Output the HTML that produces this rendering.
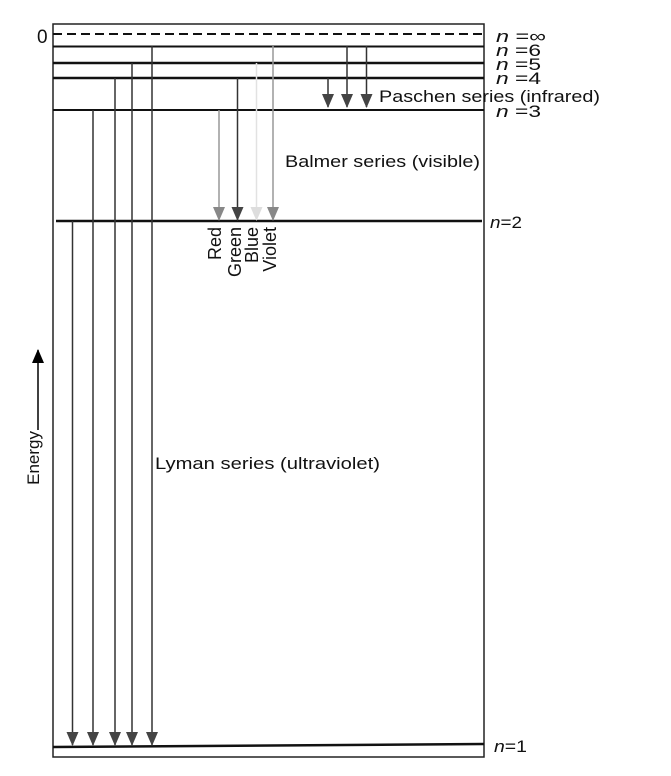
<!DOCTYPE html>
<html><head><style>body{margin:0;background:#fff}svg{display:block}</style></head><body>
<svg width="671" height="776" viewBox="0 0 671 776" xmlns="http://www.w3.org/2000/svg" font-family="Liberation Sans, sans-serif">
<defs>
<marker id="a" markerWidth="14" markerHeight="12" refX="13" refY="6" orient="auto" markerUnits="userSpaceOnUse"><path d="M0,0 L14,6 L0,12 Z" fill="#444"/></marker>
<marker id="g" markerWidth="14" markerHeight="12" refX="13" refY="6" orient="auto" markerUnits="userSpaceOnUse"><path d="M0,0 L14,6 L0,12 Z" fill="#888"/></marker>
<marker id="l" markerWidth="14" markerHeight="12" refX="13" refY="6" orient="auto" markerUnits="userSpaceOnUse"><path d="M0,0 L14,6 L0,12 Z" fill="#ddd"/></marker>
<marker id="e" markerWidth="14" markerHeight="12" refX="13" refY="6" orient="auto" markerUnits="userSpaceOnUse"><path d="M0,0 L14,6 L0,12 Z" fill="#000"/></marker>
</defs>
<rect x="53" y="24" width="431" height="733" fill="none" stroke="#222" stroke-width="1.5"/>
<line x1="53" y1="34" x2="484" y2="34" stroke="#111" stroke-width="2" stroke-dasharray="9,5"/>
<line x1="53" y1="46.5" x2="484" y2="46.5" stroke="#111" stroke-width="2"/>
<line x1="53" y1="63" x2="484" y2="63" stroke="#111" stroke-width="2.5"/>
<line x1="53" y1="78" x2="484" y2="78" stroke="#111" stroke-width="2.5"/>
<line x1="53" y1="110" x2="484" y2="110" stroke="#111" stroke-width="2"/>
<line x1="56" y1="221" x2="482" y2="221" stroke="#111" stroke-width="2.5"/>
<line x1="53" y1="747" x2="484" y2="744" stroke="#111" stroke-width="2.5"/>
<g stroke="#333" stroke-width="1.5">
<line x1="72.5" y1="221" x2="72.5" y2="745" marker-end="url(#a)"/>
<line x1="93" y1="110" x2="93" y2="745" marker-end="url(#a)"/>
<line x1="115" y1="78" x2="115" y2="745" marker-end="url(#a)"/>
<line x1="132" y1="63" x2="132" y2="745" marker-end="url(#a)"/>
<line x1="152" y1="46" x2="152" y2="745" marker-end="url(#a)"/>
<line x1="328" y1="78" x2="328" y2="107" marker-end="url(#a)"/>
<line x1="347" y1="46" x2="347" y2="107" marker-end="url(#a)"/>
<line x1="366.5" y1="46" x2="366.5" y2="107" marker-end="url(#a)"/>
<line x1="237.5" y1="78" x2="237.5" y2="220" marker-end="url(#a)"/>
</g>
<line x1="219" y1="110" x2="219" y2="220" stroke="#999" stroke-width="1.5" marker-end="url(#g)"/>
<line x1="256.5" y1="63" x2="256.5" y2="220" stroke="#e2e2e2" stroke-width="1.5" marker-end="url(#l)"/>
<line x1="273" y1="46" x2="273" y2="220" stroke="#999" stroke-width="1.5" marker-end="url(#g)"/>
<line x1="38" y1="430" x2="38" y2="350" stroke="#000" stroke-width="1.5" marker-end="url(#e)"/>
<g font-size="17" fill="#111">
<text x="37" y="43" font-size="19">0</text>
<text x="496" y="42" textLength="50" lengthAdjust="spacingAndGlyphs"><tspan font-style="italic">n</tspan> =∞</text>
<text x="496" y="56" textLength="45" lengthAdjust="spacingAndGlyphs"><tspan font-style="italic">n</tspan> =6</text>
<text x="496" y="70" textLength="45" lengthAdjust="spacingAndGlyphs"><tspan font-style="italic">n</tspan> =5</text>
<text x="496" y="84" textLength="45" lengthAdjust="spacingAndGlyphs"><tspan font-style="italic">n</tspan> =4</text>
<text x="496" y="117" textLength="45" lengthAdjust="spacingAndGlyphs"><tspan font-style="italic">n</tspan> =3</text>
<text x="490" y="228" textLength="32" lengthAdjust="spacingAndGlyphs"><tspan font-style="italic">n</tspan>=2</text>
<text x="494" y="752" textLength="33" lengthAdjust="spacingAndGlyphs"><tspan font-style="italic">n</tspan>=1</text>
<text x="379" y="102" textLength="221" lengthAdjust="spacingAndGlyphs">Paschen series (infrared)</text>
<text x="285" y="167" textLength="195" lengthAdjust="spacingAndGlyphs">Balmer series (visible)</text>
<text x="155" y="469" textLength="225" lengthAdjust="spacingAndGlyphs">Lyman series (ultraviolet)</text>
<g font-size="18">
<text transform="translate(221,227) rotate(-90)" text-anchor="end">Red</text>
<text transform="translate(241,227) rotate(-90)" text-anchor="end">Green</text>
<text transform="translate(258,227) rotate(-90)" text-anchor="end">Blue</text>
<text transform="translate(276,227) rotate(-90)" text-anchor="end">Violet</text>
</g>
<text transform="translate(39,431) rotate(-90)" text-anchor="end" font-size="17">Energy</text>
</g>
</svg>
</body></html>
